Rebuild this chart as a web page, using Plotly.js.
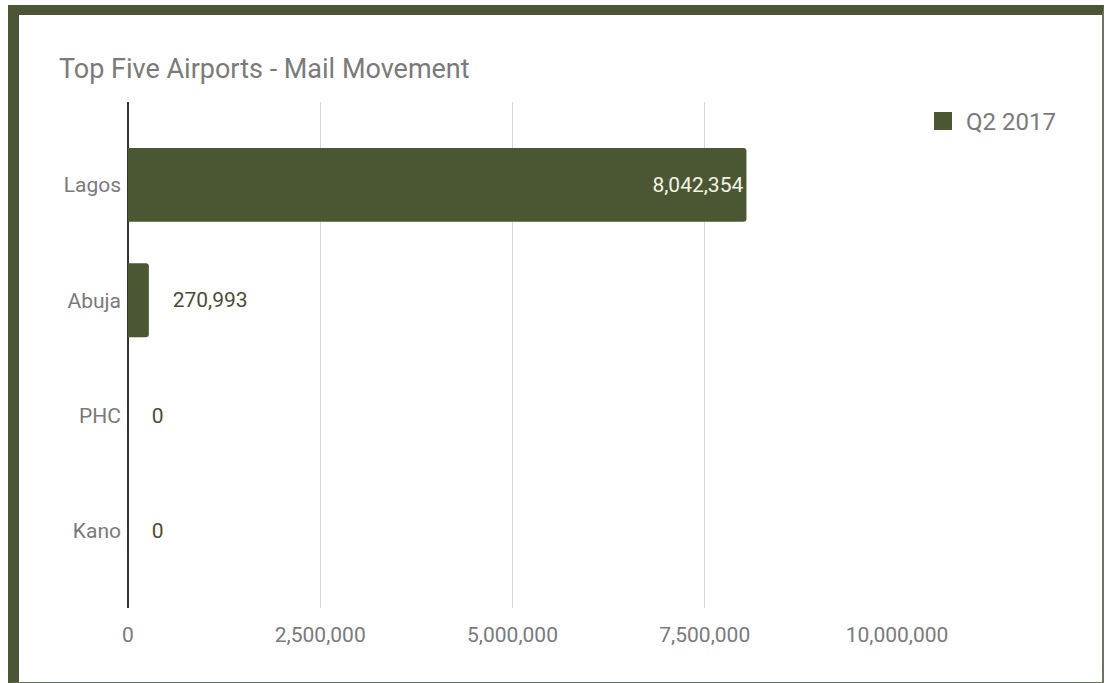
<!DOCTYPE html>
<html>
<head>
<meta charset="utf-8">
<script src="https://cdn.plot.ly/plotly-3.0.1.min.js"></script>
<style>
  html, body { margin: 0; padding: 0; background: #ffffff; width: 1105px; height: 683px; overflow: hidden; }
  #frame { position: absolute; left: 8px; top: 5px; width: 1083px; height: 667px;
           border-left: 11px solid #4b5637; border-top: 10px solid #4b5637;
           border-right: 2px solid #6b745f; border-bottom: 1px solid #6b745f; box-sizing: content-box; }
  #chart { position: absolute; left: 0; top: 0; width: 1105px; height: 683px; }
</style>
</head>
<body>
<div id="frame"></div>
<div id="chart"></div>
<script>
// Data
const airports = ["Lagos", "Abuja", "PHC", "Kano"];
const mailQ2_2017 = [8042354, 270993, 0, 0];
const seriesName = "Q2 2017";
const chartTitle = "Top Five Airports - Mail Movement";
const xTickValues = [0, 2500000, 5000000, 7500000, 10000000];

const barColor = "#4b5632";
const W = 1105, H = 683;
const M = { l: 128, r: 208, t: 102, b: 75 };
const plotW = W - M.l - M.r, plotH = H - M.t - M.b;
const px2x = p => (p - M.l) / plotW;
const py2y = p => (H - M.b - p) / plotH;

const textPositions = mailQ2_2017.map((v, i) => i === 0 ? "inside" : "outside");
const labels = mailQ2_2017.map((v, i) => {
  const s = v.toLocaleString("en-US");
  return i === 0 ? s : "\u00a0\u00a0\u00a0\u00a0" + s;
});

const trace = {
  type: "bar",
  orientation: "h",
  name: seriesName,
  y: airports,
  x: mailQ2_2017,
  width: 0.64,
  marker: { color: barColor, cornerradius: 3 },
  text: labels,
  textposition: textPositions,
  insidetextanchor: "end",
  insidetextfont: { family: "Roboto, sans-serif", size: 21, color: "#f3f3e8" },
  outsidetextfont: { family: "Roboto, sans-serif", size: 21, color: "#4a4d36" },
  cliponaxis: false,
  hoverinfo: "x+y",
  showlegend: false
};

const layout = {
  width: W,
  height: H,
  paper_bgcolor: "rgba(0,0,0,0)",
  plot_bgcolor: "rgba(0,0,0,0)",
  margin: M,
  font: { family: "Roboto, sans-serif", color: "#777777" },
  title: {
    text: chartTitle,
    font: { family: "Roboto, sans-serif", size: 27, color: "#7a7a7a" },
    xref: "container", yref: "container",
    x: 59 / W, xanchor: "left",
    y: 1 - 69 / H, yanchor: "middle"
  },
  xaxis: {
    range: [0, 10000000],
    tickvals: xTickValues,
    tickformat: ",d",
    showgrid: true,
    gridcolor: "#d6d6d6",
    gridwidth: 1,
    zeroline: true,
    zerolinecolor: "#333333",
    zerolinewidth: 1.5,
    showline: false,
    ticks: "",
    ticklabelstandoff: 12,
    tickfont: { family: "Roboto, sans-serif", size: 21, color: "#7a7a7a" },
    fixedrange: true
  },
  yaxis: {
    type: "category",
    categoryorder: "array",
    categoryarray: airports,
    range: [3.67, -0.72],
    showgrid: false,
    zeroline: false,
    showline: false,
    ticks: "",
    ticklabelstandoff: 6,
    tickfont: { family: "Roboto, sans-serif", size: 21, color: "#7a7a7a" },
    fixedrange: true
  },
  showlegend: false,
  shapes: [{
    type: "rect", xref: "paper", yref: "paper",
    x0: px2x(934), x1: px2x(952), y0: py2y(112), y1: py2y(130),
    fillcolor: barColor, line: { width: 0 }
  }],
  annotations: [{
    text: seriesName, xref: "paper", yref: "paper",
    x: px2x(964), y: py2y(121.5), xanchor: "left", yanchor: "middle",
    showarrow: false,
    font: { family: "Roboto, sans-serif", size: 24, color: "#7a7a7a" }
  }]
};

Plotly.newPlot("chart", [trace], layout, { displayModeBar: false });
</script>
</body>
</html>
